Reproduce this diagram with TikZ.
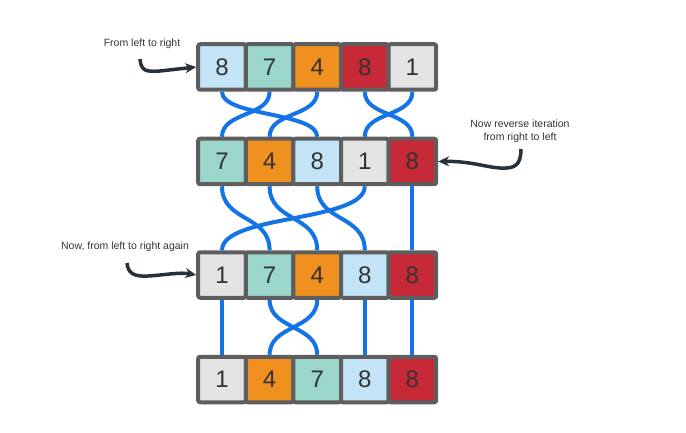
\documentclass[tikz,border=0pt]{standalone}
\usepackage{fontspec}
\setmainfont{Liberation Sans}
\usetikzlibrary{arrows.meta, calc}

\definecolor{cellblue}{HTML}{C3E4F6}
\definecolor{cellteal}{HTML}{9AD6CA}
\definecolor{cellorange}{HTML}{F0901F}
\definecolor{cellred}{HTML}{C82937}
\definecolor{cellgray}{HTML}{E4E4E4}
\definecolor{frame}{HTML}{5E5E5E}
\definecolor{wirecol}{HTML}{1473E6}
\definecolor{ink}{HTML}{333333}
\definecolor{pointercol}{HTML}{263238}

\tikzset{
  cell/.style={draw=frame, line width=4pt, minimum width=47.6pt, minimum height=45.5pt,
    inner sep=0pt, rounded corners=2pt, text=ink, font=\fontsize{24}{24}\selectfont},
  wire/.style={draw=wirecol, line width=4pt},
  pointer/.style={draw=pointercol, line width=3.5pt, -{Stealth[length=11pt, width=10pt]}},
  note/.style={text=ink, font=\fontsize{10.5}{13}\selectfont, align=center, inner sep=0pt}
}

\begin{document}
\begin{tikzpicture}[x=1pt, y=-1pt]
    \useasboundingbox (0,0) rectangle (686,433);
    % first pass
    \node[cell, fill=cellblue] (a1) at (222, 67) {8};
    \node[cell, fill=cellteal] at ($(a1) + (47.6, 0)$) (a2) {7};
    \node[cell, fill=cellorange] at ($(a2) + (47.6, 0)$) (a3) {4};
    \node[cell, fill=cellred] at ($(a3) + (47.6, 0)$) (a4) {8};
    \node[cell, fill=cellgray] at ($(a4) + (47.6, 0)$) (a5) {1};
    % after left to right
    \node[cell, fill=cellteal] (b1) at (222, 161.5) {7};
    \node[cell, fill=cellorange] at ($(b1) + (47.6, 0)$) (b2) {4};
    \node[cell, fill=cellblue] at ($(b2) + (47.6, 0)$) (b3) {8};
    \node[cell, fill=cellgray] at ($(b3) + (47.6, 0)$) (b4) {1};
    \node[cell, fill=cellred] at ($(b4) + (47.6, 0)$) (b5) {8};
    % after right to left
    \node[cell, fill=cellgray] (c1) at (222, 275) {1};
    \node[cell, fill=cellteal] at ($(c1) + (47.6, 0)$) (c2) {7};
    \node[cell, fill=cellorange] at ($(c2) + (47.6, 0)$) (c3) {4};
    \node[cell, fill=cellblue] at ($(c3) + (47.6, 0)$) (c4) {8};
    \node[cell, fill=cellred] at ($(c4) + (47.6, 0)$) (c5) {8};
    % sorted
    \node[cell, fill=cellgray] (d1) at (222, 379.5) {1};
    \node[cell, fill=cellorange] at ($(d1) + (47.6, 0)$) (d2) {4};
    \node[cell, fill=cellteal] at ($(d2) + (47.6, 0)$) (d3) {7};
    \node[cell, fill=cellblue] at ($(d3) + (47.6, 0)$) (d4) {8};
    \node[cell, fill=cellred] at ($(d4) + (47.6, 0)$) (d5) {8};

    % swaps, first row to second
    \draw[wire] (a1.south) .. controls ($(a1.south) + (0, 25)$) and ($(b3.north) + (0, -25)$) .. (b3.north);
    \draw[wire] (a2.south) .. controls ($(a2.south) + (0, 25)$) and ($(b1.north) + (0, -25)$) .. (b1.north);
    \draw[wire] (a3.south) .. controls ($(a3.south) + (0, 25)$) and ($(b2.north) + (0, -25)$) .. (b2.north);
    \draw[wire] (a4.south) .. controls ($(a4.south) + (0, 25)$) and ($(b5.north) + (0, -25)$) .. (b5.north);
    \draw[wire] (a5.south) .. controls ($(a5.south) + (0, 25)$) and ($(b4.north) + (0, -25)$) .. (b4.north);
    % second row to third
    \draw[wire] (b1.south) .. controls ($(b1.south) + (0, 36)$) and ($(c2.north) + (0, -36)$) .. (c2.north);
    \draw[wire] (b2.south) .. controls ($(b2.south) + (0, 36)$) and ($(c3.north) + (0, -36)$) .. (c3.north);
    \draw[wire] (b3.south) .. controls ($(b3.south) + (0, 36)$) and ($(c4.north) + (0, -36)$) .. (c4.north);
    \draw[wire] (b4.south) .. controls ($(b4.south) + (0, 36)$) and ($(c1.north) + (0, -36)$) .. (c1.north);
    \draw[wire] (b5.south) -- (c5.north);
    % third row to fourth
    \draw[wire] (c1.south) -- (d1.north);
    \draw[wire] (c2.south) .. controls ($(c2.south) + (0, 30)$) and ($(d3.north) + (0, -30)$) .. (d3.north);
    \draw[wire] (c3.south) .. controls ($(c3.south) + (0, 30)$) and ($(d2.north) + (0, -30)$) .. (d2.north);
    \draw[wire] (c4.south) -- (d4.north);
    \draw[wire] (c5.south) -- (d5.north);

    % notes
    \node[note] (t1) at (142, 44) {From left to right};
    \coordinate (s1) at (140, 59);
    \draw[pointer] (s1) .. controls ($(s1) + (1, 12)$) and ($(s1) + (6, 13)$) .. ($(s1) + (20, 12)$) -- (a1.west);
    \node[note] (t2) at (520, 131.5) {Now reverse iteration\\from right to left};
    \coordinate (s2) at (521, 149);
    \draw[pointer] (s2) .. controls (521, 165) and (515, 169) .. (500, 168) .. controls (485, 167) and (470, 161) .. (b5.east);
    \node[note] (t3) at (125, 247) {Now, from left to right again};
    \coordinate (s3) at (127, 263);
    \draw[pointer] (s3) .. controls (128, 272) and (132, 277) .. (148, 276) .. controls (165, 275) and (180, 272) .. (c1.west);
\end{tikzpicture}
\end{document}
